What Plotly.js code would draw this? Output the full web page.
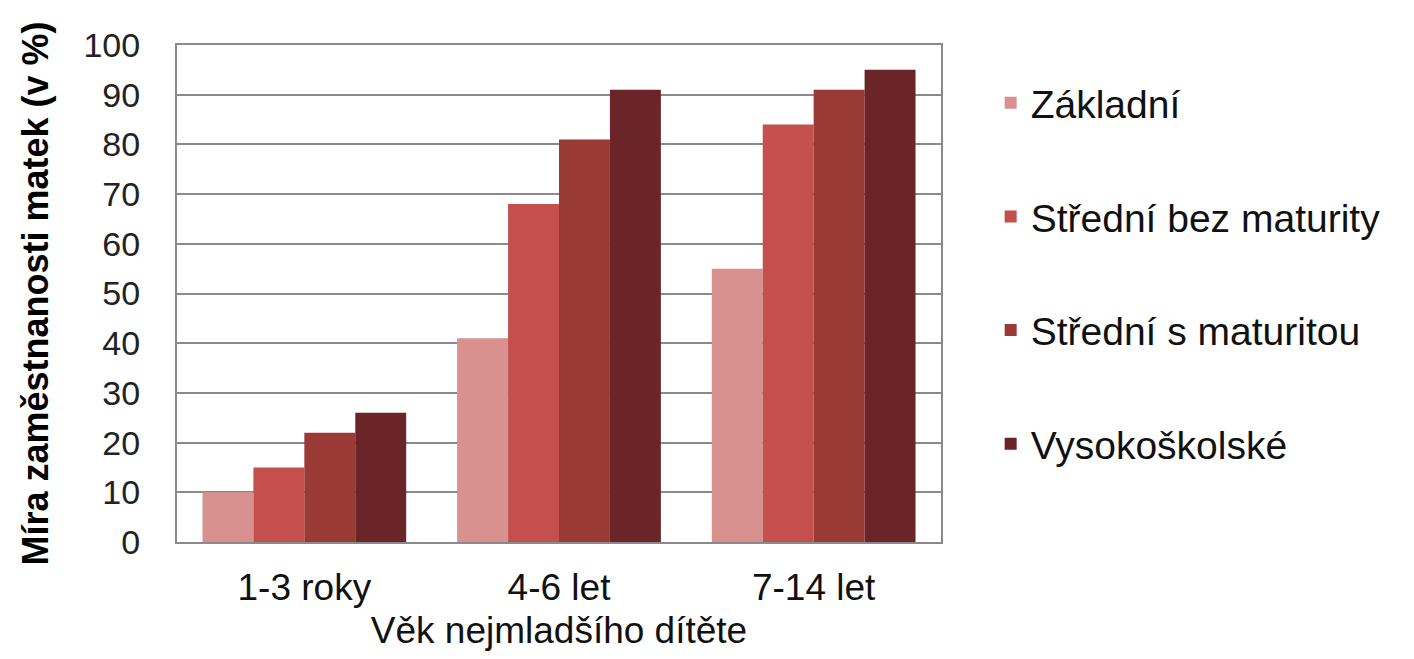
<!DOCTYPE html>
<html>
<head>
<meta charset="utf-8">
<script src="https://cdn.plot.ly/plotly-3.0.1.min.js"></script>
<style>html,body{margin:0;padding:0;background:#fff;}#chart{width:1414px;height:659px;}</style>
</head>
<body>
<div id="chart"></div>
<script>
const categories = ["1-3 roky", "4-6 let", "7-14 let"];
const seriesNames = ["Základní", "Střední bez maturity", "Střední s maturitou", "Vysokoškolské"];
const zakladni = [10, 41, 55];
const stredniBez = [15, 68, 84];
const stredniS = [22, 81, 91];
const vysokoskolske = [26, 91, 95];
const yTicks = [0, 10, 20, 30, 40, 50, 60, 70, 80, 90, 100];

const colors = ["#D8918F", "#C4504E", "#993A35", "#6B2428"];
const values = [zakladni, stredniBez, stredniS, vysokoskolske];

const data = values.map((v, i) => ({
  type: "bar",
  name: seriesNames[i],
  x: categories,
  y: v,
  legendgroup: "g" + i,
  marker: {color: colors[i], line: {width: 0}}
}));

const layout = {
  width: 1414, height: 659,
  paper_bgcolor: "#ffffff", plot_bgcolor: "#ffffff",
  margin: {l: 177, r: 473, t: 45, b: 117},
  barmode: "group", bargap: 0.2, bargroupgap: 0,
  font: {family: "Liberation Sans, Arial, sans-serif", color: "#000"},
  xaxis: {
    type: "category",
    showline: true, mirror: true, linecolor: "#8a8a8a", linewidth: 2,
    tickfont: {size: 37, color: "#111"},
    ticks: "", ticklabelstandoff: 12,
    title: {text: "Věk nejmladšího dítěte", font: {size: 37, color: "#111"}, standoff: 10}
  },
  yaxis: {
    range: [0, 100],
    tickvals: yTicks,
    ticktext: yTicks.map(String),
    showline: true, mirror: true, linecolor: "#8a8a8a", linewidth: 2,
    showgrid: true, gridcolor: "#8a8a8a", gridwidth: 2,
    zeroline: false,
    tickfont: {size: 34, color: "#222"},
    ticks: "", ticklabelstandoff: 28,
    title: {text: "Míra zaměstnanosti matek (v %)", font: {size: 36, color: "#000", weight: "bold"}, standoff: 24}
  },
  legend: {
    x: 1.065, xanchor: "left", y: 0.948, yanchor: "top",
    font: {size: 39, color: "#111"},
    tracegroupgap: 60,
    itemwidth: 30,
    bgcolor: "rgba(0,0,0,0)"
  },
  showlegend: true
};

Plotly.newPlot("chart", data, layout, {displayModeBar: false, staticPlot: true});
</script>
</body>
</html>
